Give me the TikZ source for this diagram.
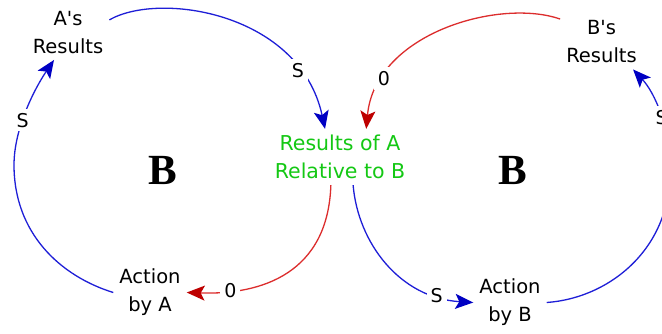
\documentclass[tikz,border=0pt]{standalone}
\usepackage{fontspec}
\setmainfont{DejaVu Sans}[Ligatures=TeXOff]
\newfontfamily\loopfont{Liberation Serif}
\usetikzlibrary{arrows.meta}
\definecolor{linkblue}{RGB}{30,30,215}
\definecolor{headblue}{RGB}{0,0,195}
\definecolor{linkred}{RGB}{220,45,45}
\definecolor{headred}{RGB}{190,0,0}
\definecolor{relgreen}{RGB}{20,200,20}
\tikzset{
	var/.style     = {align=center,inner sep=6pt,
		font=\fontsize{19.5}{28}\selectfont},
	relvar/.style  = {var,text=relgreen,
		font=\fontsize{20.5}{28}\selectfont},
	loopmark/.style= {inner sep=0pt,
		font=\loopfont\bfseries\fontsize{43}{43}\selectfont},
	pol/.style     = {fill=white,inner sep=4pt,text=black,
		font=\fontsize{19}{19}\selectfont},
	sarr/.style    = {-{Stealth[length=18pt,width=15pt,inset=4pt,color=headblue]},
		line width=1.3pt,linkblue},
	oarr/.style    = {-{Stealth[length=18pt,width=15pt,inset=4pt,color=headred]},
		line width=1.3pt,linkred},
}

\begin{document}
\begin{tikzpicture}[x=1pt,y=1pt]
	\useasboundingbox[fill=white] (0,0) rectangle (662,333);
	
	%% Variables
	\node (resA) [var]    at (68,300.5)  {A's\\Results};
	\node (rel)  [relvar] at (340,176)   {Results of A\\Relative to B};
	\node (resB) [var]    at (601.5,291) {B's\\Results};
	\node (actA) [var]    at (150,40.5)  {Action\\by A};
	\node (actB) [var]    at (510,30.5)  {Action\\by B};
	
	%% Boucles
	\node (loopA) [loopmark] at (162.5,163) {B};
	\node (loopB) [loopmark] at (512.5,163) {B};
	
	%% Liens
	\draw[sarr] (resA.17) .. controls (160,342) and (300,320) .. (rel.118)
	node[pol,pos=0.8] {S};
	\draw[oarr] (rel.252) .. controls (328,60) and (262,38) .. (actA.east)
	node[pol,pos=0.8] {0};
	\draw[sarr] (actA.west) .. controls (60,57) and (14,100) .. (14,168)
	.. controls (14,205) and (35,245) .. (resA.243)
	node[pol,pos=0.4] {S};
	\draw[sarr] (rel.295) .. controls (358,90) and (400,35) .. (actB.west)
	node[pol,pos=0.82] {S};
	\draw[sarr] (actB.east) .. controls (610,35) and (672,85) .. (670,165)
	.. controls (670,205) and (655,240) .. (resB.319)
	node[pol,pos=0.45] {S};
	\draw[oarr] (resB.151) .. controls (500,335) and (375,300) .. (rel.47)
	node[pol,pos=0.8] {0};
\end{tikzpicture}
\end{document}
